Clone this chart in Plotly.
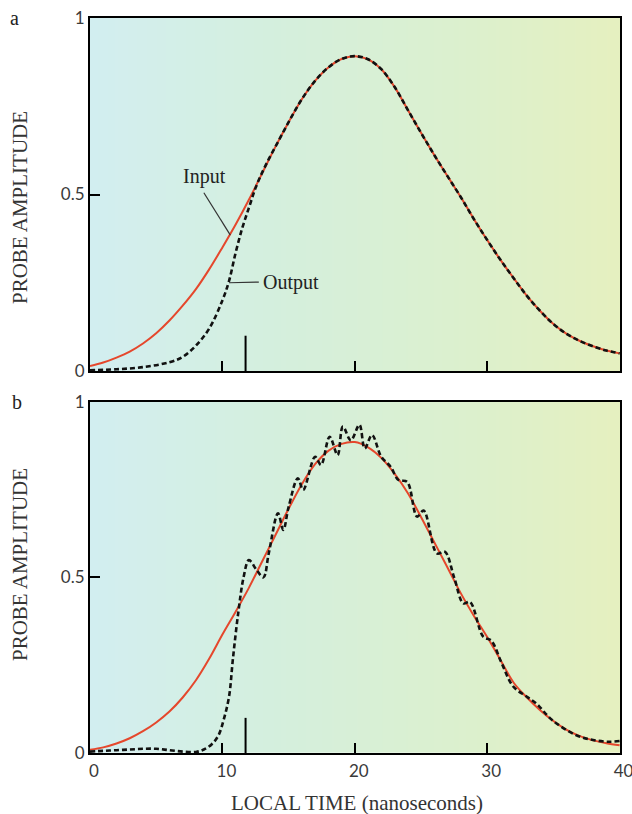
import plotly.graph_objects as go

# ---------------- data ----------------
time_grid = list(range(0, 41))

top_input = [0.014, 0.024, 0.038, 0.055, 0.078, 0.107, 0.143, 0.185, 0.232, 0.288,
             0.35, 0.415, 0.485, 0.56, 0.635, 0.705, 0.77, 0.822, 0.86, 0.884,
             0.892, 0.883, 0.855, 0.805, 0.74, 0.675, 0.612, 0.552, 0.493, 0.43,
             0.371, 0.315, 0.263, 0.213, 0.17, 0.133, 0.105, 0.085, 0.07, 0.058, 0.05]

top_out_t = [0, 2, 4, 6, 7, 8, 9, 10, 10.5, 11, 11.5, 12, 12.5, 13, 13.5, 14, 15,
             16, 17, 18, 19, 20, 21, 22, 23, 24, 25, 26, 27, 28, 29, 30, 31, 32, 33,
             34, 35, 36, 37, 38, 39, 40]
top_output = [0.002, 0.005, 0.011, 0.025, 0.04, 0.072, 0.12, 0.2, 0.255, 0.335, 0.405,
              0.462, 0.518, 0.562, 0.6, 0.635, 0.705,
              0.77, 0.822, 0.86, 0.884, 0.892, 0.883, 0.855, 0.805, 0.74, 0.675, 0.612,
              0.552, 0.493, 0.43, 0.371, 0.315, 0.263, 0.213, 0.17, 0.133, 0.105, 0.085,
              0.07, 0.058, 0.05]

bot_input = [0.009, 0.016, 0.027, 0.042, 0.062, 0.087, 0.118, 0.158, 0.207, 0.268,
             0.337, 0.402, 0.47, 0.545, 0.62, 0.695, 0.765, 0.822, 0.86, 0.88,
             0.885, 0.87, 0.84, 0.795, 0.74, 0.672, 0.60, 0.528, 0.455, 0.39,
             0.33, 0.265, 0.20, 0.158, 0.122, 0.091, 0.066, 0.048, 0.036, 0.028, 0.022]

bot_out_t = [0, 1, 2, 3, 4, 5, 6, 7, 8, 8.6, 9.2, 9.7, 10.1, 10.5, 10.8, 11.2, 11.6, 12.0,
             12.6, 13.1, 13.5, 14.2, 14.6, 15.0, 15.7, 16.1, 17.0, 17.45, 18.1, 18.7, 19.1,
             19.7, 20.35, 20.75, 21.3, 22.0, 22.7, 23.3, 23.95, 24.7, 25.2, 26.2, 26.8, 27.5,
             28.2, 28.7, 29.7, 30.3, 31.1, 31.95, 33.0, 33.7, 34.9, 36.7, 38.0, 39.2, 40.0]
bot_output = [0.004, 0.006, 0.008, 0.01, 0.012, 0.012, 0.008, 0.004, 0.003, 0.01, 0.025,
              0.05, 0.095, 0.16, 0.27, 0.40, 0.50, 0.549, 0.52, 0.50, 0.568, 0.682, 0.635,
              0.70, 0.782, 0.749, 0.843, 0.82, 0.90, 0.848, 0.929, 0.89, 0.934, 0.867, 0.905,
              0.843, 0.815, 0.777, 0.772, 0.673, 0.69, 0.568, 0.573, 0.50, 0.426, 0.43, 0.331,
              0.32, 0.255, 0.19, 0.16, 0.141, 0.094, 0.051, 0.037, 0.032, 0.034]

x_ticks = [0, 10, 20, 30, 40]
y_ticks = [0, 0.5, 1]
y_tick_text = ["0", "0.5", "1"]
marker_time = 11.75      # long tick marker on the time axis
marker_height = 0.1

# background gradient (cyan -> green -> yellow-green)
bg_x = [-2, 42]
bg_y = [-0.2, 1.2]
bg_z = [[0, 1], [0, 1]]
bg_scale = [[0, "#d2eef3"], [0.35, "#d4efde"], [0.7, "#dcf0cd"], [1, "#e7f0bd"]]

RED = "#e5472c"
SERIF = "Liberation Serif, Times New Roman, serif"
SANS = "Lato, Open Sans, sans-serif"

fig = go.Figure()

for xa, ya in (("x", "y"), ("x2", "y2")):
    fig.add_trace(go.Heatmap(x=bg_x, y=bg_y, z=bg_z, colorscale=bg_scale, zsmooth="best",
                             showscale=False, hoverinfo="skip", xaxis=xa, yaxis=ya))

# top panel
fig.add_trace(go.Scatter(x=time_grid, y=top_input, mode="lines", line_shape="spline",
                         line=dict(color=RED, width=2), xaxis="x", yaxis="y", name="Input"))
fig.add_trace(go.Scatter(x=top_out_t, y=top_output, mode="lines", line_shape="spline",
                         line=dict(color="#111111", width=2.6, dash="5px,3px"),
                         xaxis="x", yaxis="y", name="Output"))
# bottom panel
fig.add_trace(go.Scatter(x=time_grid, y=bot_input, mode="lines", line_shape="spline",
                         line=dict(color=RED, width=2), xaxis="x2", yaxis="y2", name="Input"))
fig.add_trace(go.Scatter(x=bot_out_t, y=bot_output, mode="lines", line_shape="spline",
                         line=dict(color="#111111", width=2.6, dash="5px,3px"),
                         xaxis="x2", yaxis="y2", name="Output"))

axis_common = dict(showline=True, linecolor="black", linewidth=2, mirror=True,
                   showgrid=False, zeroline=False, ticks="inside", tickcolor="black",
                   tickwidth=1.5, fixedrange=True, automargin=False)

top_dom = [0.5197, 1.0]
bot_dom = [0.0, 0.478]
x_range = [0, 40.03]

fig.update_layout(
    width=632, height=814,
    margin=dict(l=90, r=12, t=18, b=61, autoexpand=False),
    paper_bgcolor="white", plot_bgcolor="white",
    showlegend=False,
    xaxis=dict(axis_common, domain=[0, 1], anchor="y", range=x_range,
               tickvals=[10, 20, 30], ticklen=10, showticklabels=False),
    yaxis=dict(axis_common, domain=top_dom, anchor="x", range=[0, 1],
               tickvals=y_ticks, ticktext=y_tick_text, ticklen=10,
               tickfont=dict(family=SANS, size=17, color="#3a3a3a")),
    xaxis2=dict(axis_common, domain=[0, 1], anchor="y2", range=x_range,
                tickvals=x_ticks, ticklen=10, ticklabelshift=4, ticklabelstandoff=2,
                ticklabeloverflow="allow",
                tickfont=dict(family=SANS, size=17, color="#3a3a3a")),
    yaxis2=dict(axis_common, domain=bot_dom, anchor="x2", range=[0, 1],
                tickvals=y_ticks, ticktext=y_tick_text, ticklen=10,
                tickfont=dict(family=SANS, size=17, color="#3a3a3a")),
)

# long time markers
for xr, yr in (("x", "y"), ("x2", "y2")):
    fig.add_shape(type="line", xref=xr, yref=yr, x0=marker_time, x1=marker_time,
                  y0=0, y1=marker_height, line=dict(color="black", width=2))

# leader lines for labels (top panel)
fig.add_shape(type="line", xref="x", yref="y", x0=8.6, y0=0.505, x1=10.6, y1=0.385,
              line=dict(color="#333333", width=1.2))
fig.add_shape(type="line", xref="x", yref="y", x0=10.5, y0=0.25, x1=12.75, y1=0.252,
              line=dict(color="#333333", width=1.2))

fig.add_annotation(x=8.64, y=0.55, xref="x", yref="y", text="Input", showarrow=False,
                   xanchor="center", yanchor="middle",
                   font=dict(family=SERIF, size=20, color="#222222"))
fig.add_annotation(x=12.95, y=0.252, xref="x", yref="y", text="Output", showarrow=False,
                   xanchor="left", yanchor="middle",
                   font=dict(family=SERIF, size=20, color="#222222"))

# panel letters
fig.add_annotation(x=-0.142, y=1.0, xref="paper", yref="paper", text="a", showarrow=False,
                   xanchor="center", yanchor="middle",
                   font=dict(family=SERIF, size=20, color="#222222"))
fig.add_annotation(x=-0.138, y=0.478, xref="paper", yref="paper", text="b", showarrow=False,
                   xanchor="center", yanchor="middle",
                   font=dict(family=SERIF, size=20, color="#222222"))

# axis titles
for yc in (0.7415, 0.2558):
    fig.add_annotation(x=-0.132, y=yc, xref="paper", yref="paper", text="PROBE AMPLITUDE",
                       textangle=-90, showarrow=False, xanchor="center", yanchor="middle",
                       font=dict(family=SERIF, size=21, color="#333333"))
fig.add_annotation(x=0.504, y=-0.068, xref="paper", yref="paper",
                   text="LOCAL TIME (nanoseconds)", showarrow=False,
                   xanchor="center", yanchor="middle",
                   font=dict(family=SERIF, size=21, color="#333333"))

fig.write_html("out.html", config={"displayModeBar": False},
               post_script="document.body.style.margin='0px';")
